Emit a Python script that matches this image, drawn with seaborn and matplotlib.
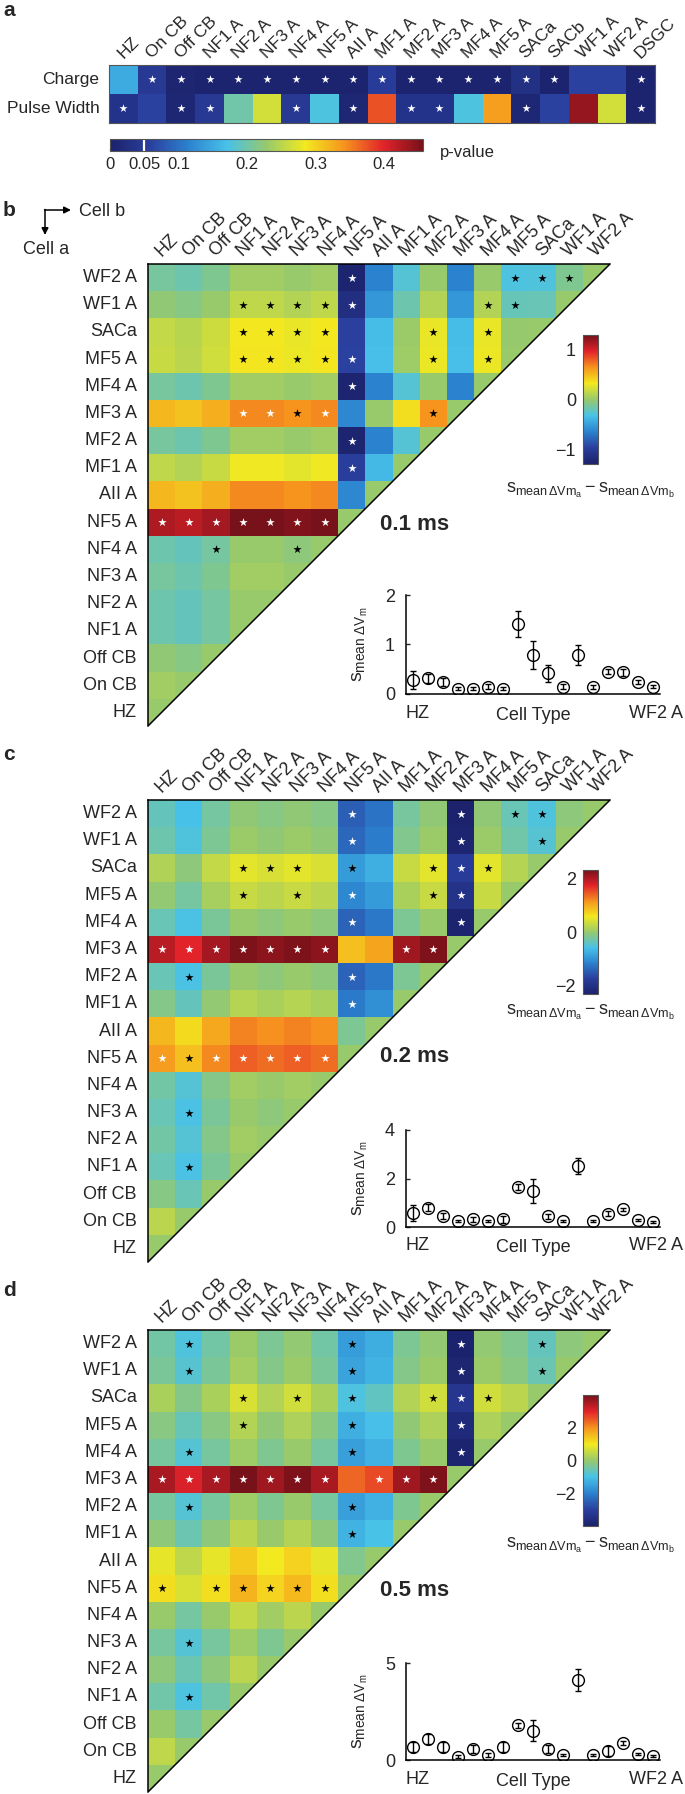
import numpy as np
import pandas as pd
import matplotlib
matplotlib.use("Agg")
import matplotlib.pyplot as plt
import seaborn as sns
from matplotlib.colors import LinearSegmentedColormap
from matplotlib.patches import Polygon

# ---------------- data ----------------
cells = ["HZ", "On CB", "Off CB", "NF1 A", "NF2 A", "NF3 A", "NF4 A", "NF5 A", "AII A",
         "MF1 A", "MF2 A", "MF3 A", "MF4 A", "MF5 A", "SACa", "WF1 A", "WF2 A"]

a_cells = ["HZ", "On CB", "Off CB", "NF1 A", "NF2 A", "NF3 A", "NF4 A", "NF5 A", "AII A",
           "MF1 A", "MF2 A", "MF3 A", "MF4 A", "MF5 A", "SACa", "SACb", "WF1 A", "WF2 A", "DSGC"]
a_rows = ["Charge", "Pulse Width"]
p_charge = [0.15, 0.045, 0.008, 0.005, 0.005, 0.005, 0.005, 0.005, 0.005, 0.05,
            0.005, 0.005, 0.005, 0.005, 0.03, 0.005, 0.06, 0.06, 0.005]
p_pulse = [0.035, 0.06, 0.01, 0.045, 0.2, 0.265, 0.045, 0.175, 0.01, 0.375,
           0.035, 0.035, 0.175, 0.335, 0.01, 0.06, 0.44, 0.265, 0.005]
stars_charge = ["On CB", "Off CB", "NF1 A", "NF2 A", "NF3 A", "NF4 A", "NF5 A", "AII A", "MF1 A",
                "MF2 A", "MF3 A", "MF4 A", "MF5 A", "SACa", "SACb", "DSGC"]
stars_pulse = ["HZ", "Off CB", "NF1 A", "NF4 A", "AII A", "MF2 A", "MF3 A", "SACa", "DSGC"]
p_ticks = [0, 0.05, 0.1, 0.2, 0.3, 0.4]
p_ticklabels = ["0", "0.05", "0.1", "0.2", "0.3", "0.4"]

# s_mean dVm per cell type (order of `cells`) and error bars
s_01 = [0.28, 0.32, 0.25, 0.11, 0.11, 0.15, 0.11, 1.41, 0.79, 0.42, 0.15, 0.79, 0.15, 0.45, 0.44, 0.25, 0.15]
e_01 = [0.18, 0.09, 0.08, 0.03, 0.03, 0.05, 0.03, 0.26, 0.28, 0.17, 0.05, 0.20, 0.04, 0.05, 0.07, 0.04, 0.03]
s_02 = [0.58, 0.80, 0.46, 0.25, 0.32, 0.25, 0.32, 1.66, 1.48, 0.44, 0.25, 2.51, 0.25, 0.55, 0.73, 0.28, 0.21]
e_02 = [0.33, 0.15, 0.12, 0.05, 0.10, 0.03, 0.15, 0.12, 0.48, 0.10, 0.03, 0.34, 0.05, 0.10, 0.05, 0.03, 0.05]
s_05 = [0.66, 1.09, 0.66, 0.17, 0.55, 0.26, 0.66, 1.78, 1.52, 0.55, 0.26, 4.14, 0.26, 0.48, 0.86, 0.31, 0.21]
e_05 = [0.25, 0.25, 0.25, 0.08, 0.20, 0.08, 0.25, 0.15, 0.52, 0.20, 0.05, 0.57, 0.05, 0.25, 0.10, 0.05, 0.05]

NF = ["NF1 A", "NF2 A", "NF3 A", "NF4 A"]
stars_01_white = ([("WF2 A", "NF5 A"), ("WF1 A", "NF5 A"), ("MF5 A", "NF5 A"), ("MF4 A", "NF5 A"),
                   ("MF3 A", "NF1 A"), ("MF3 A", "NF2 A"), ("MF3 A", "NF4 A"),
                   ("MF2 A", "NF5 A"), ("MF1 A", "NF5 A")]
                  + [("NF5 A", c) for c in ["HZ", "On CB", "Off CB"] + NF])
stars_01_black = ([("WF2 A", c) for c in ["MF5 A", "SACa", "WF1 A"]]
                  + [("WF1 A", c) for c in NF + ["MF4 A", "MF5 A"]]
                  + [("SACa", c) for c in NF + ["MF2 A", "MF4 A"]]
                  + [("MF5 A", c) for c in NF + ["MF2 A", "MF4 A"]]
                  + [("MF3 A", "NF3 A"), ("MF3 A", "MF2 A"), ("NF4 A", "Off CB"), ("NF4 A", "NF3 A")])

stars_02_white = ([("WF2 A", "NF5 A"), ("WF2 A", "MF3 A"), ("WF1 A", "NF5 A"), ("WF1 A", "MF3 A"),
                   ("SACa", "MF3 A"), ("MF5 A", "NF5 A"), ("MF5 A", "MF3 A"),
                   ("MF4 A", "NF5 A"), ("MF4 A", "MF3 A"), ("MF2 A", "NF5 A"), ("MF1 A", "NF5 A")]
                  + [("MF3 A", c) for c in ["HZ", "On CB", "Off CB"] + NF + ["MF1 A", "MF2 A"]]
                  + [("NF5 A", c) for c in ["HZ", "Off CB"] + NF])
stars_02_black = ([("WF2 A", "MF5 A"), ("WF2 A", "SACa"), ("WF1 A", "SACa")]
                  + [("SACa", c) for c in ["NF1 A", "NF2 A", "NF3 A", "NF5 A", "MF2 A", "MF4 A"]]
                  + [("MF5 A", c) for c in ["NF1 A", "NF3 A", "MF2 A"]]
                  + [("MF2 A", "On CB"), ("NF5 A", "On CB"), ("NF3 A", "On CB"), ("NF1 A", "On CB")])

stars_05_white = ([(r, "MF3 A") for r in ["WF2 A", "WF1 A", "SACa", "MF5 A", "MF4 A"]]
                  + [("MF3 A", c) for c in ["HZ", "On CB", "Off CB"] + NF + ["AII A", "MF1 A", "MF2 A"]])
stars_05_black = ([("WF2 A", c) for c in ["On CB", "NF5 A", "SACa"]]
                  + [("WF1 A", c) for c in ["On CB", "NF5 A", "SACa"]]
                  + [("SACa", c) for c in ["NF1 A", "NF3 A", "NF5 A", "MF2 A", "MF4 A"]]
                  + [("MF5 A", "NF1 A"), ("MF5 A", "NF5 A"), ("MF4 A", "On CB"), ("MF4 A", "NF5 A"),
                     ("MF2 A", "On CB"), ("MF2 A", "NF5 A"), ("MF1 A", "NF5 A")]
                  + [("NF5 A", c) for c in ["HZ", "Off CB"] + NF]
                  + [("NF3 A", "On CB"), ("NF1 A", "On CB")])

# ---------------- style ----------------
sns.set_theme(style="white")
plt.rcParams["font.family"] = ["Liberation Sans", "DejaVu Sans"]
plt.rcParams["mathtext.fontset"] = "custom"
plt.rcParams["mathtext.rm"] = "Liberation Sans"
plt.rcParams["mathtext.it"] = "Liberation Sans:italic"
plt.rcParams["mathtext.bf"] = "Liberation Sans:bold"
plt.rcParams["axes.unicode_minus"] = True

cmap = LinearSegmentedColormap.from_list("jet_print", [
    (0.0, "#1c226c"), (0.125, "#2a3f9e"), (0.25, "#2b82cf"), (0.375, "#48c2e9"),
    (0.5, "#97c96c"), (0.625, "#f3e91f"), (0.75, "#f6931e"), (0.875, "#e2232a"),
    (1.0, "#77111a")])

W, H = 685, 1794
fig = plt.figure(figsize=(W / 100, H / 100), dpi=100)


def R(x0, y0, x1, y1):
    return [x0 / W, 1 - y1 / H, (x1 - x0) / W, (y1 - y0) / H]


ov = fig.add_axes([0, 0, 1, 1], zorder=10)
ov.set_xlim(0, W)
ov.set_ylim(H, 0)
ov.axis("off")
ov.patch.set_alpha(0)

# ---------------- panel a ----------------
axa = fig.add_axes(R(109, 65, 655, 123))
dfa = pd.DataFrame([p_charge, p_pulse], index=a_rows, columns=a_cells)
sns.heatmap(dfa, cmap=cmap, vmin=0, vmax=0.457, cbar=False, ax=axa)
mesh_a = axa.collections[0]
for r, names in enumerate([stars_charge, stars_pulse]):
    xs = [a_cells.index(n) + 0.5 for n in names]
    axa.scatter(xs, [r + 0.5] * len(xs), marker="*", s=38, color="white", linewidths=0, zorder=4)
axa.set_xlim(0, len(a_cells))
axa.set_ylim(2, 0)
axa.set_xlabel("")
axa.set_ylabel("")
axa.xaxis.tick_top()
axa.set_xticks(np.arange(len(a_cells)) + 0.5)
axa.set_xticklabels(a_cells, rotation=45, ha="left", va="baseline", rotation_mode="anchor", fontsize=12.5)
axa.set_yticks([0.5, 1.5])
axa.set_yticklabels(a_rows, rotation=0, fontsize=12.5)
axa.tick_params(axis="both", direction="in", length=3, width=0.8, color="#555")
axa.tick_params(axis="x", top=True, bottom=True, labeltop=True, labelbottom=False, pad=4)
axa.tick_params(axis="y", left=True, right=False, pad=7)
for sp in axa.spines.values():
    sp.set_visible(True)
    sp.set_linewidth(0.8)
    sp.set_color("#555")

caxa = fig.add_axes(R(110, 139, 423, 151))
cba = fig.colorbar(mesh_a, cax=caxa, orientation="horizontal")
cba.set_ticks(p_ticks)
cba.set_ticklabels(p_ticklabels)
caxa.tick_params(direction="in", length=2.5, width=0.8, labelsize=12, pad=4, color="#333")
caxa.axvline(0.05, color="white", lw=1.6)
cba.outline.set_linewidth(0.8)
cba.outline.set_edgecolor("#555")
ov.text(440, 153, "p-value", fontsize=12, ha="left", va="center")
ov.text(3, 10, "a", fontsize=15, fontweight="bold", ha="left", va="center")


# ---------------- panels b-d ----------------
def tri_panel(top, s, err, wstars, bstars, cb_top, cb_bot, cb_ticks, cb_label_y,
              ms_text, ms_y, in_top, in_bot, in_ylim, in_yticks):
    s = np.asarray(s, dtype=float)
    n = len(cells)
    rows = cells[::-1]
    M = pd.DataFrame(s[::-1][:, None] - s[None, :], index=rows, columns=cells)
    mask = np.array([[c > (n - 1 - r) for c in range(n)] for r in range(n)])
    vmax = np.abs(M.values[~mask]).max()
    ax = fig.add_axes(R(148, top, 610, top + 462))
    sns.heatmap(M, mask=mask, cmap=cmap, vmin=-vmax, vmax=vmax, cbar=False, ax=ax)
    mesh = ax.collections[0]
    ax.add_patch(Polygon([(n, 0), (n, n), (0, n)], closed=True, facecolor="white",
                         edgecolor="none", zorder=3))
    ax.plot([n, 0], [0, n], color="black", lw=1.1, zorder=5, solid_capstyle="butt")
    for lst, col in [(wstars, "white"), (bstars, "black")]:
        xs = [cells.index(b) + 0.5 for a, b in lst]
        ys = [rows.index(a) + 0.5 for a, b in lst]
        ax.scatter(xs, ys, marker="*", s=40, color=col, linewidths=0, zorder=4)
    ax.set_xlim(0, n)
    ax.set_ylim(n, 0)
    ax.set_xlabel("")
    ax.set_ylabel("")
    ax.xaxis.tick_top()
    ax.set_xticks(np.arange(n) + 0.5)
    ax.set_xticklabels(cells, rotation=45, ha="left", va="baseline", rotation_mode="anchor", fontsize=13)
    ax.set_yticks(np.arange(n) + 0.5)
    ax.set_yticklabels(rows, rotation=0, fontsize=13)
    ax.tick_params(axis="both", direction="in", length=4, width=1, color="black")
    ax.tick_params(axis="x", top=True, bottom=False, labeltop=True, labelbottom=False, pad=5)
    ax.tick_params(axis="y", left=True, right=False, pad=8)
    for k in ["left", "top"]:
        ax.spines[k].set_visible(True)
        ax.spines[k].set_linewidth(1.1)
        ax.spines[k].set_color("black")
        ax.spines[k].set_zorder(6)
    for k in ["right", "bottom"]:
        ax.spines[k].set_visible(False)

    cax = fig.add_axes(R(583, cb_top, 598, cb_bot))
    cb = fig.colorbar(mesh, cax=cax)
    cb.set_ticks(cb_ticks)
    cax.tick_params(direction="in", length=3, width=0.8, labelsize=13, left=True, right=True,
                    labelleft=True, labelright=False, pad=5)
    cb.outline.set_linewidth(0.8)
    cb.outline.set_edgecolor("#555")
    ov.text(590, cb_label_y,
            r"$\mathrm{s}_{\mathrm{mean}\,\Delta\mathrm{Vm}_{\mathrm{a}}}"
            r" - \mathrm{s}_{\mathrm{mean}\,\Delta\mathrm{Vm}_{\mathrm{b}}}$",
            fontsize=13, ha="center", va="center")
    ov.text(380, ms_y, ms_text, fontsize=16, fontweight="bold", ha="left", va="center")

    ai = fig.add_axes(R(406, in_top, 660, in_bot))
    x = np.arange(1, n + 1)
    ai.errorbar(x, s, yerr=err, fmt="o", mfc="none", mec="black", ecolor="black", ms=8.5,
                mew=1, elinewidth=1, capsize=2.5, capthick=1)
    ai.set_xlim(0.5, n + 0.5)
    ai.set_ylim(*in_ylim)
    ai.set_yticks(in_yticks)
    ai.set_yticklabels([str(t) for t in in_yticks])
    ai.set_xticks([])
    ai.tick_params(axis="y", direction="in", length=3, width=1, labelsize=13, pad=8, left=True)
    ai.patch.set_alpha(0)
    sns.despine(ax=ai)
    for k in ["left", "bottom"]:
        ai.spines[k].set_linewidth(1.1)
        ai.spines[k].set_color("black")
    ly = in_bot + 19
    ov.text(406, ly, "HZ", fontsize=13, ha="left", va="center")
    ov.text(533, ly + 2, "Cell Type", fontsize=13, ha="center", va="center")
    ov.text(683, ly, "WF2 A", fontsize=13, ha="right", va="center")
    ov.text(360, (in_top + in_bot) / 2, r"$\mathrm{s}_{\mathrm{mean}\ \Delta\mathrm{V}_{\mathrm{m}}}$",
            fontsize=14, rotation=90, ha="center", va="center")


tri_panel(264, s_01, e_01, stars_01_white, stars_01_black, 335, 464, [-1, 0, 1], 490,
          "0.1 ms", 525, 595, 694, (0, 2), [0, 1, 2])
tri_panel(800, s_02, e_02, stars_02_white, stars_02_black, 870, 994, [-2, 0, 2], 1012,
          "0.2 ms", 1057, 1130, 1227, (0, 4), [0, 2, 4])
tri_panel(1330, s_05, e_05, stars_05_white, stars_05_black, 1395, 1526, [-2, 0, 2], 1545,
          "0.5 ms", 1590, 1663, 1760, (0, 5), [0, 5])

# panel letters and the cell a / cell b key
ov.text(3, 210, "b", fontsize=15, fontweight="bold", ha="left", va="center")
ov.text(3, 754, "c", fontsize=15, fontweight="bold", ha="left", va="center")
ov.text(3, 1291, "d", fontsize=15, fontweight="bold", ha="left", va="center")
ov.annotate("", xy=(45, 235), xytext=(45, 209.5),
            arrowprops=dict(arrowstyle="-|>", lw=1.1, color="black", mutation_scale=10,
                            shrinkA=0, shrinkB=0))
ov.annotate("", xy=(71, 210), xytext=(44.5, 210),
            arrowprops=dict(arrowstyle="-|>", lw=1.1, color="black", mutation_scale=10,
                            shrinkA=0, shrinkB=0))
ov.text(79, 211, "Cell b", fontsize=13, ha="left", va="center")
ov.text(23, 249, "Cell a", fontsize=13, ha="left", va="center")

fig.savefig("out.png", dpi=100)
